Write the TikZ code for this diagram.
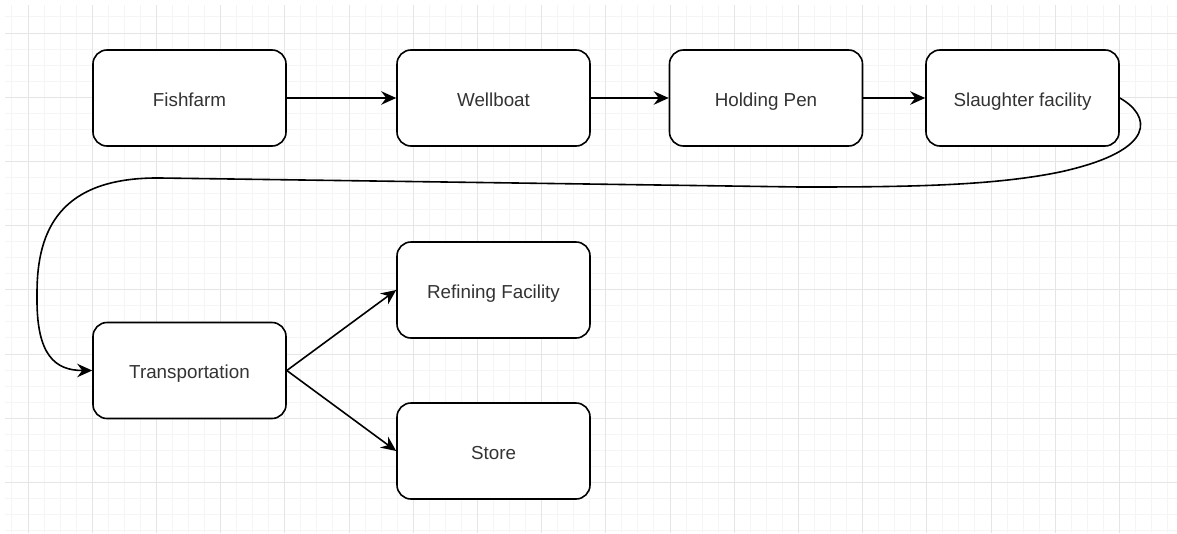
\documentclass[tikz,border=0pt]{standalone}
\usepackage{fontspec}
\setmainfont{Liberation Sans}
\usetikzlibrary{arrows.meta}
\begin{document}
\begin{tikzpicture}[x=1pt,y=-1pt,
		box/.style={draw=black, line width=1.6pt, rounded corners=14pt, fill=white, minimum width=193pt, minimum height=96pt, inner sep=0pt, text height=16pt, text depth=0pt, text=black!80, font=\fontsize{18.8}{22}\selectfont},
		flow/.style={-{Stealth[length=15pt,width=13.5pt,inset=5pt]}, line width=1.6pt}]
		\useasboundingbox (0,0) rectangle (1177,533);
		\begin{scope}[shift={(28,33)}]
			\draw[black!4, line width=1pt, step=16.05pt] (-23,-28) grid (1149,500);
			\draw[black!10, line width=1pt, step=64.2pt] (-23,-28) grid (1149,500);
		\end{scope}
		
		\node[box] (fishfarm) at (189.5,98) {Fishfarm};
		\node[box] (wellboat) at (493.5,98) {Wellboat};
		\node[box] (pen) at (766,98) {Holding Pen};
		\node[box] (slaughter) at (1022.5,98) {Slaughter facility};
		\node[box] (transport) at (189.5,370.5) {Transportation};
		\node[box] (refining) at (493.5,290) {Refining Facility};
		\node[box] (store) at (493.5,451) {Store};
		
		\draw[flow] (fishfarm) -- (wellboat);
		\draw[flow] (wellboat) -- (pen);
		\draw[flow] (pen) -- (slaughter);
		\draw[flow] (slaughter.east) .. controls (1150,115) and (1160,150) .. (1060,172) .. controls (990,186.4) and (900,187) .. (800,187) -- (160,178) .. controls (60,177) and (37,230) .. (37,293) -- (37,300) .. controls (37,355) and (55,370.5) .. (transport.west);
		\draw[flow] (transport.east) -- (refining.west);
		\draw[flow] (transport.east) -- (store.west);
	\end{tikzpicture}
\end{document}
